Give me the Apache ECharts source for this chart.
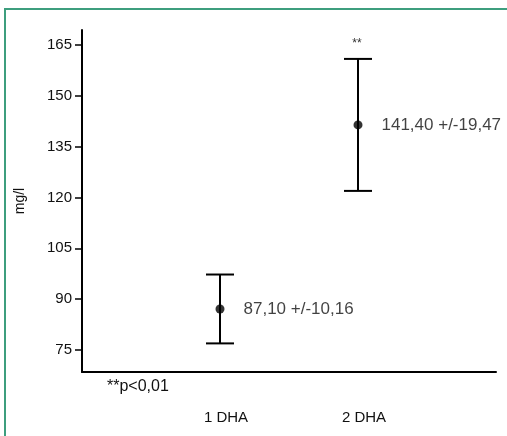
<!DOCTYPE html>
<html><head><meta charset="utf-8">
<script src="https://cdn.jsdelivr.net/npm/echarts@6/dist/echarts.min.js"></script>
<style>html,body{margin:0;padding:0;background:#fff}#c{width:507px;height:436px}</style>
</head><body><div id="c"></div>
<script>
const categories = ['1 DHA', '2 DHA'];
const positions = [1, 2];
const means = [87.10, 141.40];
const sds = [10.16, 19.47];
const valueLabels = ['87,10 +/-10,16', '141,40 +/-19,47'];
const sigMarks = ['', '**'];
const yTicks = [75, 90, 105, 120, 135, 150, 165];

const chart = echarts.init(document.getElementById('c'), null, {renderer: 'canvas'});
const font = 'Liberation Sans, Arial, sans-serif';
const txt = '#111';
const errData = positions.map((p, i) => [p, means[i] - sds[i], means[i] + sds[i], i]);
const dotData = positions.map((p, i) => [p, means[i]]);

chart.setOption({
  animation: false,
  grid: {left: 82, right: 11, top: 30, bottom: 64, containLabel: false},
  xAxis: {
    type: 'value', min: 0, max: 3, interval: 1,
    axisLine: {lineStyle: {color: '#000', width: 2}},
    axisTick: {show: false}, splitLine: {show: false},
    axisLabel: {
      margin: 38, color: txt, fontFamily: font, fontSize: 15,
      padding: [0, 0, 0, 12],
      formatter: v => { const i = positions.indexOf(v); return i >= 0 ? categories[i] : ''; }
    }
  },
  yAxis: {
    type: 'value', min: 68.5, max: 169.4,
    name: 'mg/l', nameLocation: 'middle', nameGap: 55, nameRotate: 90,
    nameTextStyle: {fontFamily: font, fontSize: 14, color: txt},
    axisLine: {show: true, lineStyle: {color: '#000', width: 2}},
    axisTick: {show: true, length: 7, lineStyle: {color: '#000', width: 1.5},
      customValues: yTicks},
    axisLabel: {color: txt, fontFamily: font, fontSize: 15, margin: 10,
      customValues: yTicks},
    splitLine: {show: false}
  },
  series: [
    {
      type: 'custom',
      data: errData,
      renderItem: function (params, api) {
        const x = api.value(0);
        const lo = api.coord([x, api.value(1)]);
        const hi = api.coord([x, api.value(2)]);
        const idx = api.value(3);
        const hw = 14;
        const st = {stroke: '#000', lineWidth: 2};
        const children = [
          {type: 'line', shape: {x1: lo[0], y1: lo[1], x2: hi[0], y2: hi[1]}, style: st},
          {type: 'line', shape: {x1: lo[0] - hw, y1: lo[1], x2: lo[0] + hw, y2: lo[1]}, style: st},
          {type: 'line', shape: {x1: hi[0] - hw, y1: hi[1], x2: hi[0] + hw, y2: hi[1]}, style: st}
        ];
        if (sigMarks[idx]) {
          children.push({type: 'text', x: hi[0] - 1, y: hi[1] - 15,
            style: {text: sigMarks[idx], fill: '#333', font: '12px ' + font, align: 'center', verticalAlign: 'middle'}});
        }
        return {type: 'group', children: children};
      },
      z: 2
    },
    {
      type: 'scatter',
      data: dotData,
      symbol: 'circle', symbolSize: 9,
      itemStyle: {color: '#000'},
      label: {
        show: true, position: 'right', distance: 19,
        formatter: p => valueLabels[p.dataIndex],
        color: txt, fontFamily: font, fontSize: 17
      },
      z: 3
    }
  ],
  graphic: [
    {type: 'rect', shape: {x: 5, y: 9, width: 620, height: 520},
      style: {fill: 'none', stroke: '#3d9e7e', lineWidth: 2}, silent: true},
    {type: 'text', left: 107, top: 379,
      style: {text: '**p<0,01', fill: txt, font: '16px ' + font}}
  ]
});
</script></body></html>
